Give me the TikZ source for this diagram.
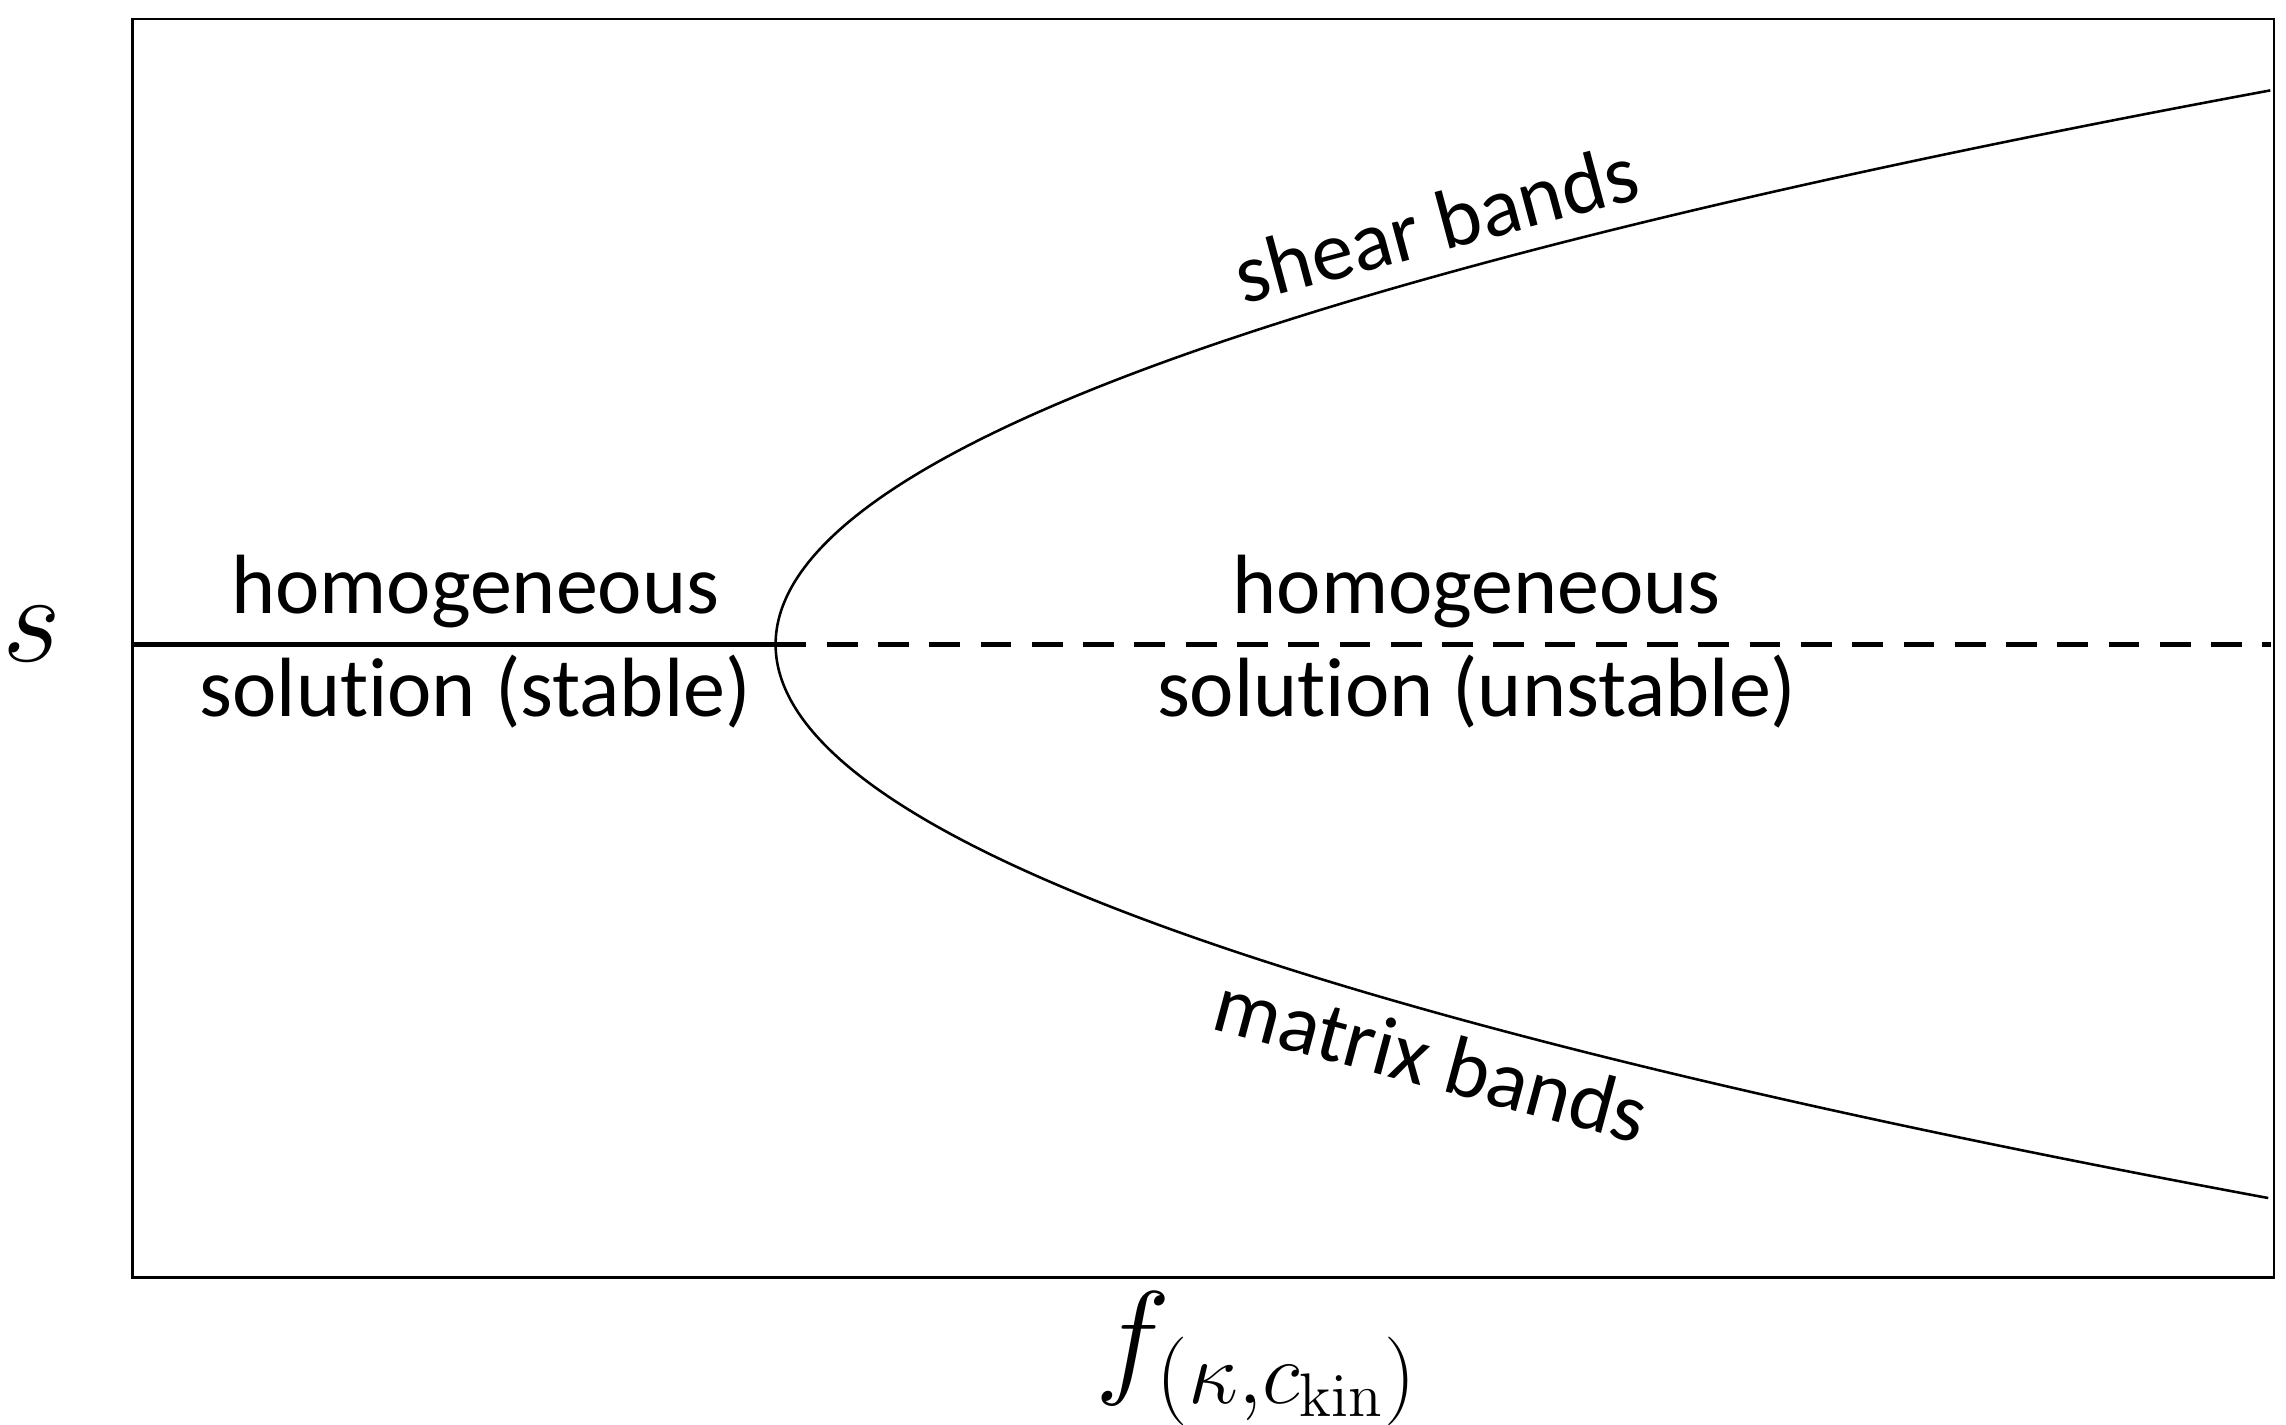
\documentclass[tikz,border=0pt]{standalone}
\usepackage[no-math]{fontspec}
\setmainfont[Ligatures=NoCommon]{Carlito}
\begin{document}
\begin{tikzpicture}[x=0.01cm,y=-0.01cm,
  lbl/.style={font=\fontsize{16.4}{20}\selectfont,align=center},
  curve/.style={line width=0.5pt}]
\useasboundingbox (0,0) rectangle (1568,977.4);
\node[draw,line width=0.5pt,minimum width=14.68cm,minimum height=8.63cm,inner sep=0,anchor=north west] (frame) at (90,12) {};
\coordinate (bp) at (532,442);
\coordinate (left) at (90,442);
\coordinate (right) at (1558,442);
\draw[line width=1pt] (left) -- (bp);
\draw[line width=1pt,dash pattern=on 6pt off 4pt] (bp) -- (right);
\draw[curve] plot[domain=-3.80:3.80,samples=200,smooth] ({532+71*\x*\x},{442+100*\x});
\node[lbl] (h1) at (326,440) {homogeneous\\solution (stable)};
\node[lbl] (h2) at (1013,440) {homogeneous\\solution (unstable)};
\node[lbl,rotate=15] (sb) at (985,153) {shear bands};
\node[lbl,rotate=-15] (mb) at (982,726) {matrix bands};
\node[font=\fontsize{24}{28}\selectfont] (s) at (22,435) {$s$};
\node[font=\fontsize{24}{28}\selectfont] (f) at (862,932) {$f_{(\kappa,c_{\mathrm{kin}})}$};
\end{tikzpicture}
\end{document}
